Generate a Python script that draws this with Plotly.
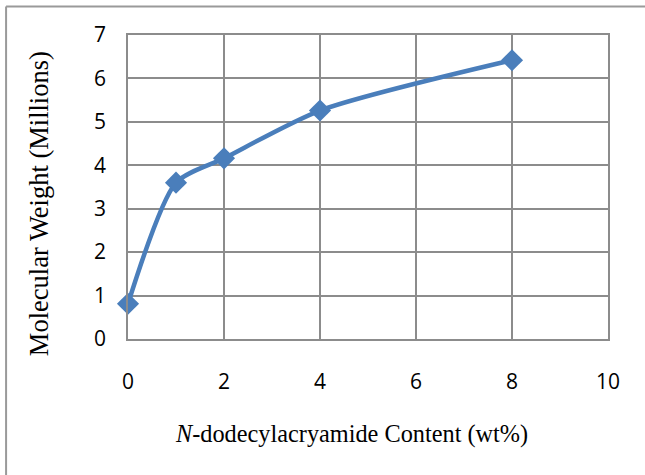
import plotly.graph_objects as go

# N-dodecylacrylamide content (wt%) vs molecular weight (millions)
content = [0, 1, 2, 4, 8]
mol_weight = [0.81, 3.60, 4.16, 5.26, 6.42]

x_ticks = [0, 2, 4, 6, 8, 10]
y_ticks = [0, 1, 2, 3, 4, 5, 6, 7]

blue = "#4a7ebb"
grid = "#8c8c8c"

fig = go.Figure()
fig.add_trace(go.Scatter(
    x=content, y=mol_weight, mode="lines+markers",
    line=dict(color=blue, width=4.5, shape="spline", smoothing=0.7),
    marker=dict(symbol="diamond", size=17, color=blue),
    cliponaxis=False, showlegend=False,
))

tick_font = dict(family="Open Sans, Lato, sans-serif", size=21, color="black")

fig.update_xaxes(range=[0, 10], tickvals=x_ticks, showgrid=True, gridcolor=grid, gridwidth=1.5,
                 showline=True, linecolor=grid, linewidth=1.5, mirror=True, zeroline=False,
                 ticks="", tickfont=tick_font, ticklabelstandoff=23)
fig.update_yaxes(range=[0, 7], tickvals=y_ticks, showgrid=True, gridcolor=grid, gridwidth=1.5,
                 showline=True, linecolor=grid, linewidth=1.5, mirror=True, zeroline=False,
                 ticks="", tickfont=tick_font, ticklabelstandoff=16)

serif = "Liberation Serif, Times New Roman, serif"

fig.update_layout(
    width=645, height=475,
    margin=dict(l=128, r=37, t=35, b=136),
    paper_bgcolor="white", plot_bgcolor="white",
    annotations=[
        dict(text="Molecular Weight (Millions)", textangle=-90, x=-0.222, y=0.445,
             xref="paper", yref="paper", showarrow=False,
             font=dict(family=serif, size=26.5, color="black")),
        dict(text="<i>N</i>-dodecylacryamide Content (wt%)", x=0.465, y=-0.364,
             xref="paper", yref="paper", showarrow=False,
             font=dict(family=serif, size=24.3, color="black")),
    ],
    shapes=[
        # chart-area border (left and top edges visible)
        dict(type="line", xref="paper", yref="paper", x0=-0.254, x1=-0.254, y0=1.094, y1=-0.5,
             line=dict(color="#9a9a9a", width=2)),
        dict(type="line", xref="paper", yref="paper", x0=-0.254, x1=1.2, y0=1.094, y1=1.094,
             line=dict(color="#9a9a9a", width=2)),
    ],
)

# drop the default 8px body margin so the figure sits at the page origin
fig.write_html("out.html", config={"displayModeBar": False},
               post_script="document.body.style.margin='0';")
